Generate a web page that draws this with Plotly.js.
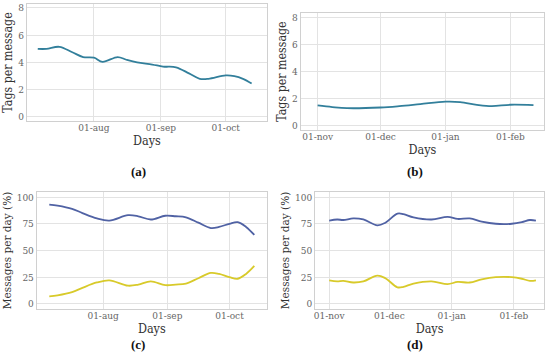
<!DOCTYPE html>
<html><head><meta charset="utf-8">
<script src="https://cdn.plot.ly/plotly-3.0.1.min.js"></script>
<style>html,body{margin:0;padding:0;background:#fff}#chart{width:550px;height:353px}</style>
</head><body><div id="chart"></div>
<script>
// Panel (a): tags per message, summer
const daysA = ['2020-07-06','2020-07-10','2020-07-16','2020-07-22','2020-07-27','2020-08-01','2020-08-05','2020-08-12','2020-08-16','2020-08-21','2020-08-28','2020-09-02','2020-09-08','2020-09-14','2020-09-19','2020-09-23','2020-10-01','2020-10-05','2020-10-09','2020-10-13'];
const tagsA = [5.0,5.0,5.15,4.75,4.4,4.35,4.05,4.4,4.2,4.0,3.85,3.7,3.65,3.2,2.8,2.8,3.05,3.0,2.8,2.45];
// Panel (b): tags per message, winter
const daysB = ['2020-11-01','2020-11-08','2020-11-15','2020-12-01','2020-12-10','2020-12-20','2021-01-01','2021-01-08','2021-01-16','2021-01-23','2021-02-01','2021-02-12'];
const tagsB = [1.5,1.38,1.3,1.35,1.45,1.6,1.78,1.75,1.55,1.45,1.55,1.52];
// Panel (c): messages per day (%), summer
const daysC = ['2020-07-06','2020-07-10','2020-07-17','2020-07-22','2020-07-29','2020-08-04','2020-08-13','2020-08-18','2020-08-24','2020-08-31','2020-09-05','2020-09-10','2020-09-16','2020-09-22','2020-09-26','2020-10-01','2020-10-05','2020-10-09','2020-10-13'];
const blueC = [93,92,89,85,80,78,83,82,79,82.5,82,81,76,71,72,75,76.5,72,64.5];
const yellowC = [7,8,11,15,20,22,17,18,21,17.5,18,19,24,29,28,25,23.5,28,35.5];
// Panel (d): messages per day (%), winter
const daysD = ['2020-11-01','2020-11-05','2020-11-08','2020-11-13','2020-11-18','2020-11-25','2020-11-29','2020-12-05','2020-12-08','2020-12-13','2020-12-22','2020-12-30','2021-01-04','2021-01-10','2021-01-16','2021-01-23','2021-01-31','2021-02-05','2021-02-09','2021-02-12'];
const blueD = [78,79,78.5,80,79,73.5,76,84.5,84,81,79,81.5,79.5,80,77,75,75,76.5,78.5,78];
const yellowD = [22,21,21.5,20,21,26.5,24,15.5,16,19,21,18.5,20.5,20,23,25,25,23.5,21.5,22];
// Tick labels
const tickValsSummer = ['2020-08-01','2020-09-01','2020-10-01'];
const tickTextSummer = ['01-aug','01-sep','01-oct'];
const tickValsWinter = ['2020-11-01','2020-12-01','2021-01-01','2021-02-01'];
const tickTextWinter = ['01-nov','01-dec','01-jan','01-feb'];
const tagTicks = [0,2,4,6,8];
const pctTicks = [0,25,50,75,100];

const TEAL = '#327f9b', BLUE = '#5062a4', YEL = '#d8ca2a';
const serif = 'DejaVu Serif Condensed, DejaVu Serif';
const line = (x,y,c,xa,ya)=>({x:x,y:y,xaxis:xa,yaxis:ya,type:'scatter',mode:'lines',
  line:{color:c,width:1.8,shape:'spline',smoothing:1},hoverinfo:'skip',showlegend:false});

const data = [
  line(daysA,tagsA,TEAL,'x','y'),
  line(daysB,tagsB,TEAL,'x2','y2'),
  line(daysC,blueC,BLUE,'x3','y3'),
  line(daysC,yellowC,YEL,'x3','y3'),
  line(daysD,blueD,BLUE,'x4','y4'),
  line(daysD,yellowD,YEL,'x4','y4'),
];

const xbase = (dom,anchor,range,tv,tt)=>({domain:dom,anchor:anchor,type:'date',range:range,
  tickmode:'array',tickvals:tv,ticktext:tt,showgrid:true,gridcolor:'#e3e3e3',gridwidth:1,
  showline:true,linecolor:'#d0d0d0',linewidth:1,mirror:true,zeroline:false,ticks:'',ticklen:0,
  ticklabelstandoff:-3,
  tickfont:{family:serif,size:10,color:'#666'},
  title:{text:'Days',font:{family:serif,size:12.5,color:'#333'},standoff:0}});
const ybase = (dom,anchor,range,tv,title,fs)=>({domain:dom,anchor:anchor,range:range,
  tickmode:'array',tickvals:tv,showgrid:true,gridcolor:'#e3e3e3',gridwidth:1,
  showline:true,linecolor:'#d0d0d0',linewidth:1,mirror:true,zeroline:false,ticks:'',
  tickfont:{family:serif,size:10,color:'#666'},
  title:{text:title,font:{family:serif,size:fs,color:'#333'},standoff:2}});

const layout = {
  width:550,height:353,margin:{l:0,r:0,t:0,b:0},paper_bgcolor:'#fff',plot_bgcolor:'#fff',
  xaxis: xbase([0.049,0.485],'y',['2020-07-01','2020-10-20'],tickValsSummer,tickTextSummer),
  yaxis: ybase([0.657,0.989],'x',[-0.3,8.3],tagTicks,'Tags per message',12.3),
  xaxis2: xbase([0.547,0.989],'y2',['2020-10-24','2021-02-17'],tickValsWinter,tickTextWinter),
  yaxis2: ybase([0.632,0.963],'x2',[-0.3,8.3],tagTicks,'Tags per message',12.3),
  xaxis3: xbase([0.067,0.485],'y3',['2020-06-30','2020-10-19'],tickValsSummer,tickTextSummer),
  yaxis3: ybase([0.125,0.456],'x3',[-4.7,104.7],pctTicks,'Messages per day (%)',11.7),
  xaxis4: xbase([0.573,0.989],'y4',['2020-10-25','2021-02-16'],tickValsWinter,tickTextWinter),
  yaxis4: ybase([0.125,0.456],'x4',[-4.7,104.7],pctTicks,'Messages per day (%)',11.7),
  annotations:[
    {text:'<b>(a)</b>',x:138/550,y:1-172/353},
    {text:'<b>(b)</b>',x:415/550,y:1-172/353},
    {text:'<b>(c)</b>',x:138/550,y:1-344/353},
    {text:'<b>(d)</b>',x:415/550,y:1-344/353},
  ].map(a=>Object.assign(a,{xref:'paper',yref:'paper',showarrow:false,xanchor:'center',yanchor:'middle',
    font:{family:'Liberation Serif',size:13,color:'#111'}}))
};
Plotly.newPlot('chart',data,layout,{staticPlot:true,displayModeBar:false});
</script></body></html>
